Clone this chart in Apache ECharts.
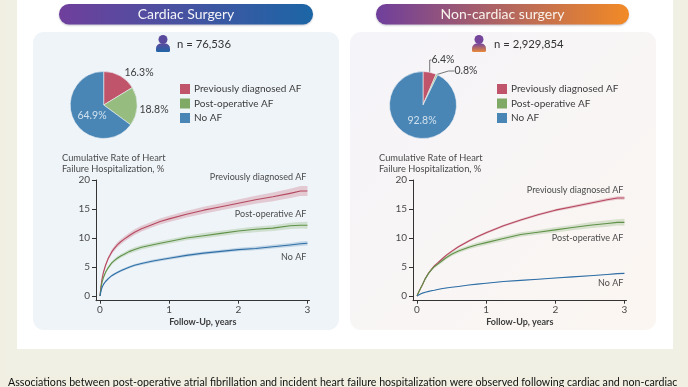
<!DOCTYPE html>
<html><head><meta charset="utf-8">
<style>html,body{margin:0;padding:0;background:#f0efe1;overflow:hidden}#c{width:688px;height:387px}</style>
<script src="https://cdn.jsdelivr.net/npm/echarts@6/dist/echarts.min.js"></script>
</head><body><div id="c"></div>
<script>
const followUpYears=[0,.01,.02,.03,.05,.08,.12,.17,.21,.25,.3,.35,.42,.5,.6,.75,.87,1,1.25,1.5,1.75,2,2.25,2.5,2.75,2.9,3];
const cardiacPrev=[0,1.2,2.2,3.0,4.1,5.3,6.5,7.6,8.25,8.8,9.35,9.8,10.4,11.0,11.6,12.3,12.85,13.3,14.1,14.8,15.4,16.0,16.6,17.1,17.7,18.1,18.1];
const cardiacPrevBand=[0,.1,.15,.2,.25,.3,.35,.4,.42,.45,.45,.45,.48,.5,.5,.5,.52,.55,.55,.6,.6,.65,.7,.75,.8,.85,.85];
const cardiacPost=[0,1.0,1.8,2.4,3.2,4.1,4.9,5.7,6.15,6.5,6.9,7.2,7.65,8.0,8.4,8.8,9.1,9.4,10.0,10.4,10.8,11.2,11.5,11.7,12.1,12.2,12.2];
const cardiacPostBand=[0,.1,.12,.15,.2,.25,.3,.3,.32,.35,.35,.35,.38,.4,.4,.4,.4,.4,.4,.45,.45,.45,.5,.5,.55,.55,.6];
const cardiacNo=[0,.6,1.1,1.5,2.0,2.5,3.0,3.5,3.8,4.05,4.35,4.6,4.95,5.3,5.6,6.0,6.25,6.5,7.0,7.4,7.7,8.0,8.2,8.5,8.8,9.0,9.1];
const cardiacNoBand=[0,.08,.1,.12,.15,.18,.2,.2,.22,.22,.22,.22,.22,.22,.24,.25,.25,.25,.28,.28,.28,.3,.32,.32,.35,.38,.38];
const nonCardiacPrev=[0,.3,.55,.8,1.3,2.0,3.0,4.0,4.6,5.2,5.7,6.25,7.0,7.7,8.5,9.5,10.2,10.9,12.1,13.1,14.0,14.8,15.4,16.0,16.6,16.9,16.9];
const nonCardiacPrevBand=[0,.03,.05,.07,.08,.1,.12,.14,.15,.15,.16,.16,.17,.18,.19,.2,.2,.2,.2,.22,.22,.22,.25,.25,.28,.3,.3];
const nonCardiacPost=[0,.3,.55,.8,1.3,2.0,3.0,3.95,4.55,5.05,5.5,5.95,6.6,7.2,7.75,8.4,8.85,9.2,9.9,10.6,11.0,11.4,11.8,12.2,12.5,12.7,12.7];
const nonCardiacPostBand=[0,.03,.05,.06,.08,.1,.15,.2,.22,.25,.28,.3,.32,.35,.35,.35,.38,.4,.4,.4,.4,.45,.45,.5,.55,.55,.6];
const nonCardiacNo=[0,.1,.15,.2,.35,.5,.65,.8,.92,1.0,1.13,1.25,1.38,1.5,1.65,1.9,2.05,2.2,2.5,2.7,2.9,3.1,3.3,3.5,3.7,3.85,3.9];
const nonCardiacNoBand=[0,.01,.01,.01,.02,.02,.02,.03,.03,.03,.03,.03,.03,.03,.03,.04,.04,.04,.04,.04,.05,.05,.05,.05,.05,.06,.06];
const groupNames=['Previously diagnosed AF','Post-operative AF','No AF'];
const cardiacShares=[16.3,18.8,64.9];
const nonCardiacShares=[6.4,0.8,92.8];
const yearTicks=[0,1,2,3];
const rateTicks=[0,5,10,15,20];

const FONT='Lato';
const RED='#c0546a',GREEN='#96bc80',BLUE='#4a86b5';
const LINE=['#b5485f','#5f9148','#2f6fa6'],FILL=['#c0546a','#7fa964','#4a86b5'];
const TXT='#4a4a4a';
const grad=(a,b)=>new echarts.graphic.LinearGradient(0,0,1,0,[{offset:0,color:a},{offset:1,color:b}]);
const gradV=(a,b)=>new echarts.graphic.LinearGradient(0,0,0,1,[{offset:0,color:a},{offset:1,color:b}]);

function person(cx,a,b){return [
 {type:'circle',z:5,shape:{cx:cx,cy:39.5,r:4.5},style:{fill:a}},
 {type:'rect',z:5,shape:{x:cx-7,y:43.5,width:14,height:8.5,r:[5,5,1.5,1.5]},style:{fill:gradV(a,b)}}
];}
const bg=[
 {type:'rect',z:-10,shape:{x:7,y:0,width:673,height:376},style:{fill:'#f1f0e4'}},
 {type:'rect',z:-9,shape:{x:17,y:0,width:656,height:349},style:{fill:'#ffffff'}},
 {type:'rect',z:-8,shape:{x:33,y:32,width:306,height:298,r:11},style:{fill:'#eff4f9'}},
 {type:'rect',z:-8,shape:{x:350,y:32,width:306,height:298,r:11},style:{fill:new echarts.graphic.LinearGradient(0,0,1,1,[{offset:0,color:'#f5f4f9'},{offset:1,color:'#fbf6f1'}])}},
 {type:'rect',z:-7,shape:{x:59,y:4,width:254,height:20.5,r:10},style:{fill:grad('#6f3f9c','#1c66a6'),shadowBlur:2,shadowColor:'rgba(60,60,90,.3)',shadowOffsetY:1}},
 {type:'rect',z:-7,shape:{x:376,y:4,width:253,height:20.5,r:10},style:{fill:grad('#6f3f9c','#f28a25'),shadowBlur:2,shadowColor:'rgba(60,60,90,.3)',shadowOffsetY:1}},
 {type:'text',z:5,style:{x:186,y:14.5,text:'Cardiac Surgery',fill:'#f4f4f8',font:'14px '+FONT,align:'center',verticalAlign:'middle'}},
 {type:'text',z:5,style:{x:502.5,y:14.5,text:'Non-cardiac surgery',fill:'#f8f2ea',font:'14px '+FONT,align:'center',verticalAlign:'middle'}},
 ...person(163,'#5a4a9e','#1f66a6'),
 ...person(479,'#74459a','#e98a3a'),
 {type:'text',z:5,style:{x:177,y:44,text:'n = 76,536',fill:'#333',font:'11.3px '+FONT,verticalAlign:'middle'}},
 {type:'text',z:5,style:{x:494,y:44,text:'n = 2,929,854',fill:'#333',font:'11.3px '+FONT,verticalAlign:'middle'}}
];

function pie(center,shares,layouts,showLine){
 return {type:'pie',center:center,radius:[0,33.5],startAngle:90,clockwise:true,silent:true,animation:false,
  itemStyle:{borderColor:'#eef2f6',borderWidth:.6},
  label:{show:true,fontFamily:FONT,fontSize:10.5,color:'#3c3c3c',formatter:p=>p.value.toFixed(1)+'%'},
  labelLine:{show:showLine,length:6,length2:6,lineStyle:{color:'#555',width:.8}},
  labelLayout:p=>layouts[p.dataIndex],
  data:groupNames.map((n,i)=>({name:n,value:shares[i],itemStyle:{color:[RED,GREEN,BLUE][i]},
    label:i===2?{position:'inside',color:'#cfe0ee'}:{position:'outside'},labelLine:{show:i===2?false:showLine}}))
 };
}
function legend(left){return {left:left,top:84,padding:0,orient:'vertical',icon:'rect',itemWidth:10,itemHeight:10,itemGap:4.5,selectedMode:false,
  data:groupNames,textStyle:{fontFamily:FONT,fontSize:10,color:'#3c3c3c',padding:[0,0,0,-1]}};}

function axes(g){
 return {
  x:{gridIndex:g,type:'value',min:-0.058,max:3.03,
   axisLine:{show:true,onZero:false,lineStyle:{color:'#333',width:1}},
   axisTick:{show:true,customValues:yearTicks,length:3,inside:false,lineStyle:{color:'#333'}},
   axisLabel:{customValues:yearTicks,fontFamily:FONT,fontSize:10,color:TXT,margin:4,formatter:v=>String(v)},
   splitLine:{show:false},name:'Follow-Up, years',nameLocation:'middle',nameGap:17,
   nameTextStyle:{fontFamily:FONT,fontSize:9,fontWeight:'bold',color:'#3c3c3c'}},
  y:{gridIndex:g,type:'value',min:-0.81,max:20,
   axisLine:{show:true,onZero:false,lineStyle:{color:'#333',width:1}},
   axisTick:{show:true,customValues:rateTicks,length:4,lineStyle:{color:'#333'}},
   axisLabel:{customValues:rateTicks,fontFamily:FONT,fontSize:10,color:TXT,margin:6},
   splitLine:{show:false},
   name:'Cumulative Rate of Heart\nFailure Hospitalization, %',nameLocation:'end',nameGap:5,
   nameTextStyle:{fontFamily:FONT,fontSize:9.3,color:'#4a4a4a',align:'left',lineHeight:11.5,padding:[0,0,0,-34]}}
 };
}
function curve(g,idx,vals,band,labelOffset){
 const rows=vals.map((v,i)=>[followUpYears[i],v-band[i],v+band[i]]);
 return [
  {type:'custom',xAxisIndex:g,yAxisIndex:g,silent:true,animation:false,z:2,clip:false,
   encode:{x:0,y:[1,2]},data:rows,
   renderItem:(params,api)=>{
    if(params.dataIndex!==0) return null;
    const top=rows.map(r=>api.coord([r[0],r[2]]));
    const bot=rows.map(r=>api.coord([r[0],r[1]])).reverse();
    return {type:'polygon',shape:{points:top.concat(bot)},style:{fill:FILL[idx],opacity:.27}};
   }},
  {type:'line',name:groupNames[idx],xAxisIndex:g,yAxisIndex:g,showSymbol:false,silent:true,animation:false,clip:false,
   data:vals.map((v,i)=>[followUpYears[i],v]),lineStyle:{color:LINE[idx],width:1.1,join:'round'},itemStyle:{color:FILL[idx]},z:3,
   endLabel:{show:true,formatter:'{a}',fontFamily:FONT,fontSize:9,color:'#4a4a4a',align:'right',verticalAlign:'middle',offset:labelOffset}}
 ];
}
const a0=axes(0),a1=axes(1);
const option={
 backgroundColor:'#f0efe1',animation:false,
 textStyle:{fontFamily:FONT},
 legend:[legend(180),legend(497)],
 grid:[{left:96,top:180,width:213.5,height:120.7},{left:413,top:180,width:213.5,height:120.7}],
 xAxis:[a0.x,a1.x],yAxis:[a0.y,a1.y],
 graphic:{elements:[...bg,
  {type:'text',z:5,style:{x:8,y:383,text:'Associations between post-operative atrial fibrillation and incident heart failure hospitalization were observed following cardiac and non-cardiac',fill:'#111',font:'10.65px '+FONT,verticalAlign:'middle'}}]},
 series:[
  pie([103.7,105],cardiacShares,[{x:139,y:73,align:'center',verticalAlign:'middle'},{x:154,y:110,align:'center',verticalAlign:'middle'},{x:92,y:116,align:'center',verticalAlign:'middle'}],false),
  pie([423,105],nonCardiacShares,[{x:443,y:60,align:'center',verticalAlign:'middle'},{x:466,y:71,align:'center',verticalAlign:'middle'},{x:422,y:121,align:'center',verticalAlign:'middle'}],true),
  ...curve(0,0,cardiacPrev,cardiacPrevBand,[-9,-14]),
  ...curve(0,1,cardiacPost,cardiacPostBand,[-9,-11.5]),
  ...curve(0,2,cardiacNo,cardiacNoBand,[-9,14]),
  ...curve(1,0,nonCardiacPrev,nonCardiacPrevBand,[-9,-8]),
  ...curve(1,1,nonCardiacPost,nonCardiacPostBand,[-9,15.5]),
  ...curve(1,2,nonCardiacNo,nonCardiacNoBand,[-9,10])
 ]
};
echarts.init(document.getElementById('c'),null,{renderer:'canvas'}).setOption(option);
</script></body></html>
